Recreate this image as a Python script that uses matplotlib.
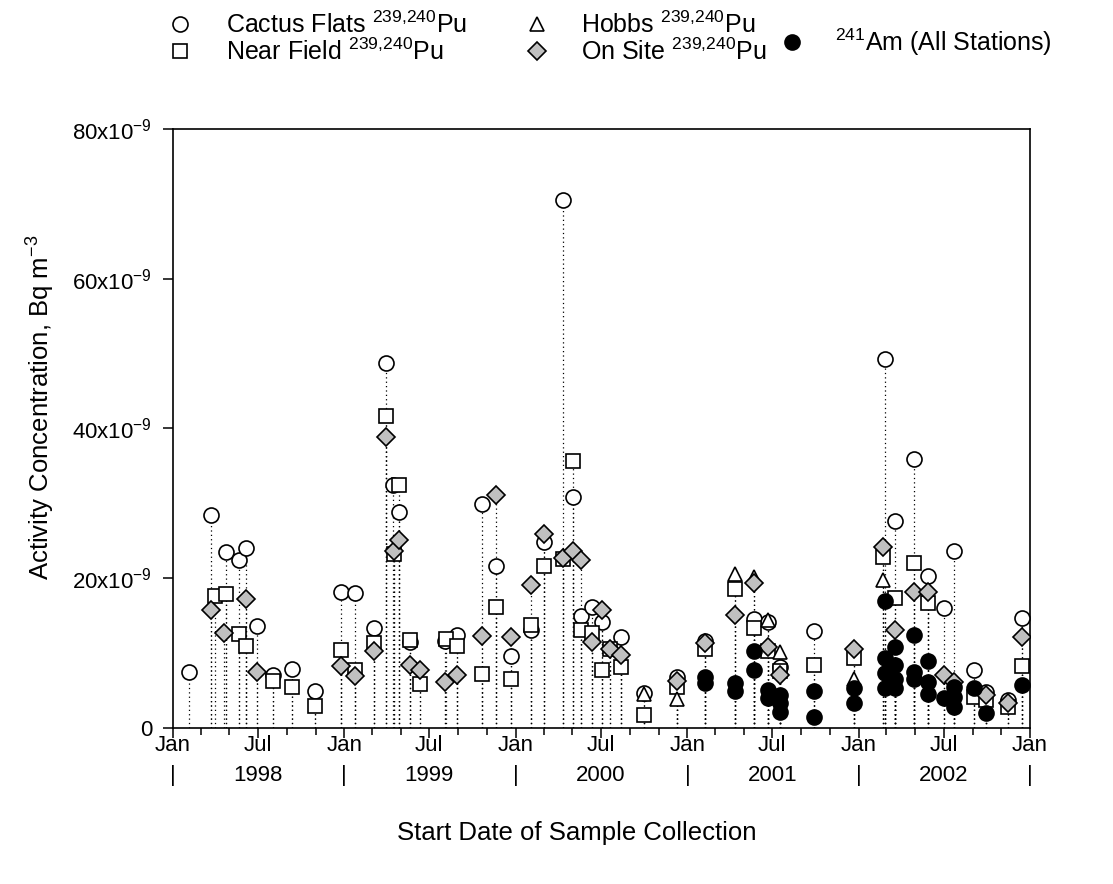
import numpy as np
import matplotlib
matplotlib.use("Agg")
import matplotlib.pyplot as plt
import matplotlib.dates as mdates
from matplotlib.lines import Line2D
from matplotlib.ticker import FuncFormatter
from matplotlib.transforms import blended_transform_factory

plt.rcParams['font.family'] = ['Liberation Sans', 'DejaVu Sans']
plt.rcParams['mathtext.default'] = 'regular'

# values, in units of 1e-9 Bq m^-3
cactus_dates = ['1998-02-05', '1998-03-24', '1998-04-24', '1998-05-21', '1998-06-06', '1998-06-28',
                '1998-08-02', '1998-09-12', '1998-10-30', '1998-12-25', '1999-01-24', '1999-03-06',
                '1999-03-31', '1999-04-14', '1999-04-28', '1999-05-21', '1999-08-03', '1999-08-29',
                '1999-10-22', '1999-11-21', '1999-12-22', '2000-02-02', '2000-03-01', '2000-04-12',
                '2000-05-03', '2000-05-19', '2000-06-11', '2000-07-02', '2000-08-12', '2000-09-30',
                '2000-12-10', '2001-02-08', '2001-05-23', '2001-06-21', '2001-07-18', '2001-09-27',
                '2002-02-27', '2002-03-20', '2002-04-29', '2002-05-28', '2002-07-01', '2002-07-23',
                '2002-09-03', '2002-09-30', '2002-11-15', '2002-12-16']
cactus_vals = [7.5, 28.4, 23.5, 22.4, 24.1, 13.6,
               7.1, 7.9, 4.9, 18.1, 18.0, 13.4,
               48.8, 32.4, 28.9, 11.5, 11.6, 12.4,
               29.9, 21.6, 9.6, 13.1, 24.8, 70.5,
               30.8, 14.9, 16.1, 14.2, 12.1, 4.7,
               6.8, 11.6, 14.5, 14.1, 8.1, 13.0,
               49.3, 27.7, 35.9, 20.3, 16.0, 23.6,
               7.7, 4.8, 3.8, 14.7]

near_dates = ['1998-04-01', '1998-04-24', '1998-05-21', '1998-06-06', '1998-08-02', '1998-09-12',
              '1998-10-30', '1998-12-25', '1999-01-24', '1999-03-06', '1999-03-31', '1999-04-16',
              '1999-04-28', '1999-05-21', '1999-06-12', '1999-08-06', '1999-08-29', '1999-10-22',
              '1999-11-21', '1999-12-22', '2000-02-02', '2000-03-01', '2000-04-12', '2000-05-03',
              '2000-05-19', '2000-06-11', '2000-07-02', '2000-07-20', '2000-08-12', '2000-09-30',
              '2000-12-10', '2001-02-08', '2001-04-13', '2001-05-23', '2001-06-21', '2001-07-18',
              '2001-09-27', '2001-12-21', '2002-02-21', '2002-03-20', '2002-04-29', '2002-05-28',
              '2002-09-03', '2002-09-30', '2002-11-15', '2002-12-16']
near_vals = [17.6, 17.9, 12.6, 10.9, 6.3, 5.5,
             2.9, 10.4, 7.7, 11.3, 41.7, 23.2,
             32.4, 11.7, 5.9, 11.9, 10.9, 7.2,
             16.2, 6.6, 13.7, 21.7, 22.6, 35.6,
             13.1, 12.7, 7.7, 10.5, 8.1, 1.8,
             5.5, 10.5, 18.6, 13.3, 10.3, 7.6,
             8.4, 9.3, 22.9, 17.3, 22.1, 16.7,
             4.2, 3.7, 2.8, 8.3]

hobbs_dates = ['2000-09-30', '2000-12-10', '2001-04-13', '2001-05-23', '2001-06-21', '2001-07-18',
               '2001-12-21', '2002-02-21']
hobbs_vals = [4.6, 3.9, 20.6, 20.2, 14.4, 10.2, 6.5, 19.7]

onsite_dates = ['1998-03-24', '1998-04-19', '1998-06-06', '1998-06-28', '1998-12-25', '1999-01-24',
                '1999-03-06', '1999-03-31', '1999-04-16', '1999-04-28', '1999-05-21', '1999-06-12',
                '1999-08-03', '1999-08-29', '1999-10-22', '1999-11-21', '1999-12-22', '2000-02-02',
                '2000-03-01', '2000-04-12', '2000-05-03', '2000-05-19', '2000-06-11', '2000-07-02',
                '2000-07-20', '2000-08-12', '2000-12-10', '2001-02-08', '2001-04-13', '2001-05-23',
                '2001-06-21', '2001-07-18', '2001-12-21', '2002-02-21', '2002-03-20', '2002-04-29',
                '2002-05-28', '2002-07-01', '2002-07-23', '2002-09-30', '2002-11-15', '2002-12-16']
onsite_vals = [15.7, 12.7, 17.2, 7.5, 8.3, 7.0,
               10.3, 38.9, 23.6, 25.1, 8.4, 7.7,
               6.2, 7.1, 12.3, 31.1, 12.1, 19.1,
               25.9, 22.7, 23.7, 22.5, 11.5, 15.8,
               10.6, 9.7, 6.3, 11.3, 15.1, 19.4,
               10.8, 7.1, 10.5, 24.2, 13.1, 18.2,
               18.1, 7.1, 6.2, 4.4, 3.3, 12.2]

am_dates = ['2001-02-08', '2001-02-08', '2001-04-13', '2001-04-13', '2001-05-23', '2001-05-23',
            '2001-06-21', '2001-06-21', '2001-07-18', '2001-07-18', '2001-07-18', '2001-09-27',
            '2001-09-27', '2001-12-21', '2001-12-21', '2002-02-27', '2002-02-27', '2002-02-27',
            '2002-02-27', '2002-03-20', '2002-03-20', '2002-03-20', '2002-03-20', '2002-04-29',
            '2002-04-29', '2002-04-29', '2002-05-28', '2002-05-28', '2002-05-28', '2002-07-01',
            '2002-07-23', '2002-07-23', '2002-07-23', '2002-09-03', '2002-09-30', '2002-12-16']
am_vals = [6.8, 6.0, 6.0, 4.9, 10.3, 7.8,
           5.1, 4.0, 4.4, 3.3, 2.2, 4.9,
           1.5, 5.3, 3.3, 16.9, 9.4, 7.3,
           5.3, 10.8, 8.4, 6.5, 5.4, 12.4,
           7.5, 6.5, 8.9, 6.1, 4.6, 4.0,
           5.5, 4.2, 2.8, 5.3, 2.0, 5.7]

W, H = 1113, 884
fig = plt.figure(figsize=(W / 100, H / 100), dpi=100)
ax = fig.add_axes([173 / W, 1 - 728 / H, (1030 - 173) / W, (728 - 129) / H])

series = [
    (cactus_dates, cactus_vals, dict(marker='o', mfc='white', ms=10.8)),
    (near_dates, near_vals, dict(marker='s', mfc='white', ms=9.5)),
    (hobbs_dates, hobbs_vals, dict(marker='^', mfc='white', ms=9.8)),
    (onsite_dates, onsite_vals, dict(marker='D', mfc='#c0c0c0', ms=8.8)),
    (am_dates, am_vals, dict(marker='o', mfc='black', ms=10.8)),
]

for i, (dates, vals, st) in enumerate(series):
    x = np.array(dates, dtype='datetime64[D]')
    y = np.array(vals) * 1e-9
    ax.vlines(x, 0, y, colors='black', linestyles=(0, (1, 2.5)), linewidth=0.9, zorder=1)
    ax.plot(x, y, ls='none', mec='black', mew=1.2, zorder=3 + i, **st)

ax.set_xlim(np.datetime64('1998-01-01'), np.datetime64('2003-01-01'))
ax.set_ylim(0, 80e-9)
ax.set_yticks([0, 20e-9, 40e-9, 60e-9, 80e-9])
ax.yaxis.set_major_formatter(FuncFormatter(
    lambda v, p: '0' if abs(v) < 1e-12 else '%dx10$^{-9}$' % round(v * 1e9)))

ax.xaxis.set_major_locator(mdates.MonthLocator(bymonth=[1, 7]))
ax.xaxis.set_minor_locator(mdates.MonthLocator(bymonth=[3, 5, 9, 11]))
ax.xaxis.set_major_formatter(mdates.DateFormatter('%b'))

ax.tick_params(axis='both', which='major', direction='out', length=7, width=1.1, labelsize=16)
ax.tick_params(axis='x', which='minor', direction='out', length=5, width=1.1)
ax.tick_params(axis='x', which='major', pad=-2)
ax.tick_params(axis='y', which='major', pad=8)
ax.tick_params(top=False, right=False)
for sp in ax.spines.values():
    sp.set_linewidth(1.2)

# year row under the month labels
tr = blended_transform_factory(ax.transData, ax.transAxes)
for yr in range(1998, 2004):
    ax.text(np.datetime64('%d-01-01' % yr), -0.079, '|', transform=tr, ha='center', va='center', fontsize=16)
for yr in range(1998, 2003):
    ax.text(np.datetime64('%d-07-01' % yr), -0.079, str(yr), transform=tr, ha='center', va='center', fontsize=16)

fig.text(577 / W, 1 - 833 / H, 'Start Date of Sample Collection', ha='center', va='center', fontsize=18.5)
fig.text(41 / W, 1 - 407 / H, 'Activity Concentration, Bq m$^{-3}$', ha='center', va='center',
         rotation=90, fontsize=18.5)

# legend laid out like the original (two rows + a separate Am entry)
legend_items = [
    (180, 24, 226, 'Cactus Flats $^{239{,}240}$Pu', series[0][2]),
    (180, 51, 226, 'Near Field $^{239{,}240}$Pu', series[1][2]),
    (537, 24, 581, 'Hobbs $^{239{,}240}$Pu', series[2][2]),
    (537, 51, 581, 'On Site $^{239{,}240}$Pu', series[3][2]),
    (792, 42, 835, '$^{241}$Am (All Stations)', series[4][2]),
]
for mx, my, tx, label, st in legend_items:
    fig.add_artist(Line2D([mx / W], [1 - my / H], transform=fig.transFigure, ls='none',
                          mec='black', mew=1.2, **st))
    fig.text(tx / W, 1 - (my + 9) / H, label, ha='left', va='baseline', fontsize=18)

fig.savefig('out.png', dpi=100)
